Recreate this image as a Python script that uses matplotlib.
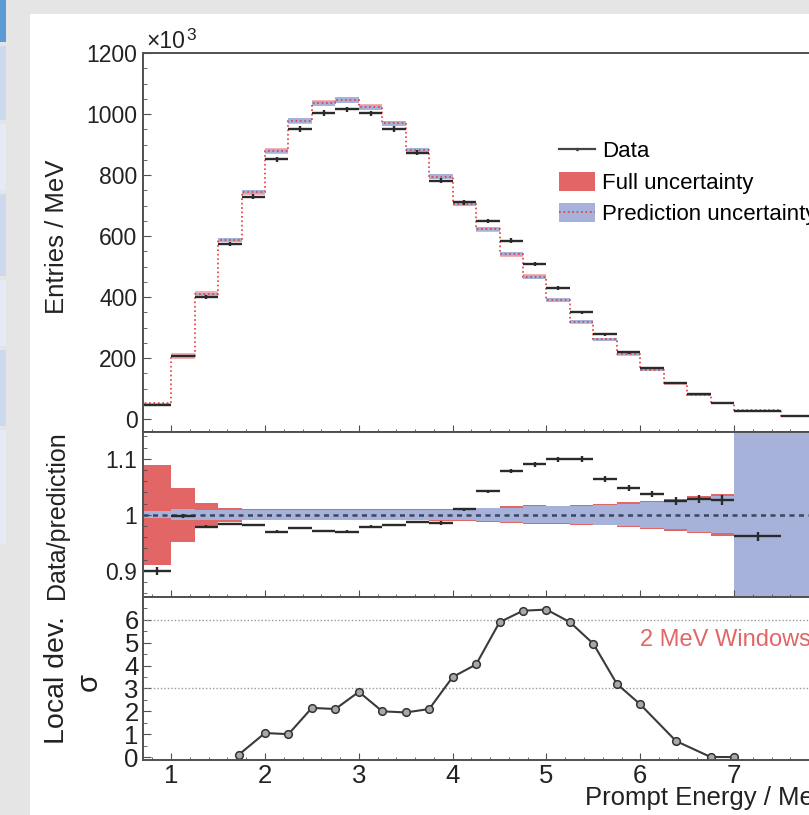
import numpy as np
import matplotlib
matplotlib.use("Agg")
import matplotlib.pyplot as plt
from matplotlib.patches import Rectangle, Patch
from matplotlib.lines import Line2D
from matplotlib.ticker import MultipleLocator, FuncFormatter

plt.rcParams['font.family'] = ['Liberation Sans', 'DejaVu Sans']

# bin edges in MeV
edges = [0.7, 1.0, 1.25, 1.5, 1.75, 2.0, 2.25, 2.5, 2.75, 3.0, 3.25, 3.5, 3.75,
         4.0, 4.25, 4.5, 4.75, 5.0, 5.25, 5.5, 5.75, 6.0, 6.25, 6.5, 6.75, 7.0,
         7.5, 8.0]

# entries / MeV (x10^3)
pred = [52, 208, 410, 587, 743, 879, 978, 1035, 1047, 1022, 969, 881, 795,
        705, 623, 541, 467, 391, 319, 262, 213, 162, 117, 80, 53, 29, 10]
data = [47, 207, 400, 574, 729, 851, 951, 1003, 1015, 1002, 952, 873, 781,
        711, 649, 585, 508, 429, 350, 278, 219, 168, 120, 82, 54, 28, 10]

# relative uncertainties (half widths)
pred_err = [0.006, 0.010, 0.009, 0.009, 0.009, 0.009, 0.009, 0.009, 0.009,
            0.009, 0.009, 0.009, 0.009, 0.010, 0.012, 0.013, 0.015, 0.015,
            0.016, 0.018, 0.020, 0.023, 0.026, 0.030, 0.033, 0.5, 0.5]
full_err = [0.089, 0.048, 0.021, 0.013, 0.010, 0.0095, 0.0095, 0.0095, 0.0095,
            0.0095, 0.0095, 0.010, 0.011, 0.011, 0.013, 0.015, 0.017, 0.016,
            0.018, 0.019, 0.022, 0.025, 0.029, 0.033, 0.038, 0.6, 0.6]

# data / prediction
ratio = [0.900, 0.998, 0.979, 0.983, 0.982, 0.970, 0.976, 0.971, 0.970, 0.979,
         0.982, 0.987, 0.985, 1.010, 1.042, 1.078, 1.090, 1.099, 1.100, 1.064,
         1.048, 1.037, 1.025, 1.028, 1.027, 0.962]
ratio_err = [0.007, 0.003, 0.002, 0.002, 0.002, 0.002, 0.002, 0.002, 0.002,
             0.002, 0.002, 0.002, 0.003, 0.003, 0.003, 0.003, 0.004, 0.0045,
             0.005, 0.005, 0.005, 0.006, 0.007, 0.007, 0.009, 0.008]

# local deviation, 2 MeV windows
win_e = [1.72, 2.0, 2.25, 2.5, 2.75, 3.0, 3.25, 3.5, 3.75, 4.0, 4.25, 4.5,
         4.75, 5.0, 5.25, 5.5, 5.75, 6.0, 6.38, 6.75, 7.0]
win_sig = [0.1, 1.05, 1.0, 2.15, 2.1, 2.85, 2.0, 1.95, 2.1, 3.5, 4.05, 5.9,
           6.4, 6.45, 5.9, 4.95, 3.2, 2.3, 0.7, 0.0, 0.0]

red = '#e26666'
blue = '#a6b2da'
dark = '#2a2a2a'
spine = '#505050'

e = np.array(edges)
cen = 0.5 * (e[1:] + e[:-1])
hw = 0.5 * (e[1:] - e[:-1])
p = np.array(pred)
pe = np.array(pred_err)
fe = np.array(full_err)

fig = plt.figure(figsize=(8.09, 8.15), dpi=100, facecolor='#e5e5e5')
# white page and side bar of the screenshot
fig.patches.append(Rectangle((30 / 809, 0), 1, 1 - 14 / 815, transform=fig.transFigure,
                             facecolor='white', edgecolor='none', zorder=-5))
fig.patches.append(Rectangle((0, 1 - 42 / 815), 6 / 809, 42 / 815, transform=fig.transFigure,
                             facecolor='#5b9bd5', edgecolor='none', zorder=-4))
for y0, y1, c in [(46, 120, '#cdd9ee'), (124, 190, '#e4eaf6'), (194, 276, '#cdd9ee'),
                  (280, 346, '#e4eaf6'), (350, 426, '#cdd9ee'), (430, 544, '#e4eaf6')]:
    fig.patches.append(Rectangle((0, 1 - y1 / 815), 6 / 809, (y1 - y0) / 815,
                                 transform=fig.transFigure, facecolor=c,
                                 edgecolor='none', zorder=-4))

L = 143 / 809
W = (828 - 143) / 809
ax1 = fig.add_axes([L, 1 - 432 / 815, W, (432 - 53) / 815])
ax2 = fig.add_axes([L, 1 - 597 / 815, W, 165 / 815])
ax3 = fig.add_axes([L, 1 - 760 / 815, W, 163 / 815])


def style(ax):
    for s in ax.spines.values():
        s.set_color(spine)
        s.set_linewidth(1.4)
    ax.tick_params(which='both', direction='in', colors=spine, labelcolor='#222',
                   labelsize=16.5, top=False, right=False, pad=4)
    ax.tick_params(axis='y', which='major', length=6)
    ax.tick_params(axis='y', which='minor', length=3)
    ax.tick_params(axis='x', which='major', length=5)
    ax.tick_params(axis='x', which='minor', length=2.5)
    ax.xaxis.set_major_locator(MultipleLocator(1))
    ax.xaxis.set_minor_locator(MultipleLocator(0.2))
    ax.set_xlim(0.7, 8.0)


for ax in (ax1, ax2, ax3):
    style(ax)

# ---- top panel
te_p = np.minimum(pe, 0.05)
te_f = np.minimum(fe, 0.05)
ax1.bar(e[:-1], 2 * p * te_f, bottom=p * (1 - te_f), width=np.diff(e), align='edge',
        color=red, alpha=0.5, linewidth=0)
ax1.bar(e[:-1], 2 * p * te_p, bottom=p * (1 - te_p), width=np.diff(e), align='edge',
        color=blue, linewidth=0)
ax1.stairs(pred, edges, baseline=0, color='#e83a3a', linestyle=':', linewidth=1.2)
ax1.errorbar(cen, data, xerr=hw, yerr=np.sqrt(np.array(data)) * 0.3, fmt='none',
             ecolor=dark, elinewidth=1.7)
ax1.set_ylim(-42, 1200)
ax1.yaxis.set_major_locator(MultipleLocator(200))
ax1.yaxis.set_minor_locator(MultipleLocator(50))
ax1.tick_params(labelbottom=False)

h_data = Line2D([0], [0], color='#444', lw=1.6, marker='.', ms=3)
h_full = Patch(facecolor=red, edgecolor='none')
h_pred = (Patch(facecolor=blue, edgecolor='none'),
          Line2D([0], [0], color='#e83a3a', lw=1.2, ls=':'))
fig.legend([h_data, h_full, h_pred], ['Data', 'Full uncertainty', 'Prediction uncertainty'],
           loc='upper left', bbox_to_anchor=(559 / 809, 1 - 140 / 815), frameon=False,
           fontsize=16, handlelength=1.6, handleheight=0.95, handletextpad=0.35,
           labelspacing=0.42, borderaxespad=0, borderpad=0)

# exponent of the y axis
fig.text(146 / 809, 1 - 48 / 815, '×10', fontsize=16.5, color='#222', va='baseline')
fig.text(186 / 809, 1 - 40 / 815, '3', fontsize=12.5, color='#222', va='baseline')

# ---- ratio panel
ax2.stairs(1 + fe, edges, baseline=1 - fe, fill=True, color=red, linewidth=0)
ax2.stairs(1 + pe, edges, baseline=1 - pe, fill=True, color=blue, linewidth=0)
ax2.axhline(1, color='#3c4662', lw=1.8, ls=(0, (2, 1.8)))
nr = len(ratio)
ax2.errorbar(cen[:nr], ratio, xerr=hw[:nr], yerr=ratio_err, fmt='none',
             ecolor=dark, elinewidth=1.7)
ax2.set_ylim(0.853, 1.148)
ax2.set_yticks([0.9, 1.0, 1.1])
ax2.yaxis.set_major_formatter(FuncFormatter(lambda v, pos: '%g' % round(v, 2)))
ax2.yaxis.set_minor_locator(MultipleLocator(0.02))
ax2.tick_params(labelbottom=False)

# ---- local deviation panel
for lev in (3, 6):
    ax3.axhline(lev, color='#9a9a9a', lw=1, ls=(0, (1, 1.5)))
ax3.plot(win_e, win_sig, '-o', color='#3a3a3a', lw=1.5, ms=5.5,
         mfc='#a8a8a8', mec='#333', mew=1.1)
ax3.text(6.0, 5.1, '2 MeV Windows', color=red, fontsize=17, va='center')
ax3.set_ylim(-0.13, 7.0)
ax3.set_yticks([0, 1, 2, 3, 4, 5, 6])
ax3.yaxis.set_minor_locator(MultipleLocator(0.5))
ax3.tick_params(labelsize=18.5)
ax3.tick_params(axis='x', pad=3)
ax3.tick_params(axis='y', pad=3)

# axis titles
fig.text(57 / 809, 1 - 237 / 815, 'Entries / MeV', rotation=90, ha='center', va='center',
         fontsize=18.5, color='#222')
fig.text(57 / 809, 1 - 515 / 815, 'Data/prediction', rotation=90, ha='center', va='center',
         fontsize=18, color='#222')
fig.text(57 / 809, 1 - 680 / 815, 'Local dev.', rotation=90, ha='center', va='center',
         fontsize=20.5, color='#222')
fig.text(89 / 809, 1 - 682 / 815, 'σ', rotation=90, ha='center', va='center',
         fontsize=21, color='#222')
fig.text(831 / 809, 1 - 798 / 815, 'Prompt Energy / MeV', ha='right', va='center',
         fontsize=18.5, color='#222')

fig.savefig('out.png', dpi=100, facecolor=fig.get_facecolor())
